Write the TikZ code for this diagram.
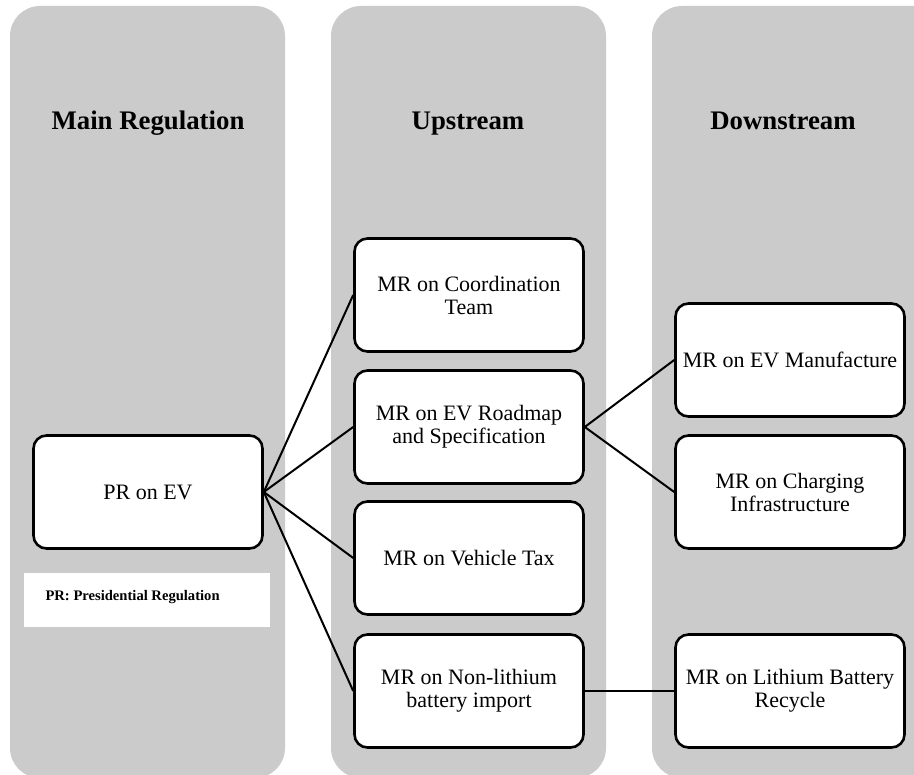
\documentclass[tikz,border=0pt]{standalone}
\usepackage{fontspec}
\setmainfont{Liberation Serif}
\usepackage{xcolor}
\definecolor{lanegray}{RGB}{203,203,203}

\begin{document}
\begin{tikzpicture}[x=1pt,y=-1pt,
    lane/.style={fill=lanegray, rounded corners=30pt},
    head/.style={anchor=base, font=\fontsize{26.8}{30}\selectfont\bfseries},
    reg/.style={draw, fill=white, line width=2.6pt, rounded corners=13pt,
      minimum width=229pt, minimum height=113pt, inner sep=0pt, align=center,
      font=\fontsize{22}{23}\selectfont},
    link/.style={line width=2pt}]
      \useasboundingbox (0,0) rectangle (914,775);
      % lanes
      \fill[lane] (10,6) rectangle (285,778);
      \fill[lane] (331,6) rectangle (606,778);
      \fill[lane] (652,6) rectangle (945,778);
      \node[head] (mainreg) at (148,130) {Main Regulation};
      \node[head] (upstream) at (468,130) {Upstream};
      \node[head] (downstream) at (783,130) {Downstream};
      % main regulation
      \node[reg] (pr) at (148,492) {PR on EV};
      \node[fill=white, minimum width=246pt, minimum height=54pt, inner sep=0pt] (legendbox) at (147,600) {};
      \node[anchor=west, font=\fontsize{14.6}{17}\selectfont\bfseries] (legend) at (42,597) {PR: Presidential Regulation};
      % upstream
      \node[reg] (coord) at (469,295) {MR on Coordination\\Team};
      \node[reg] (roadmap) at (469,427) {MR on EV Roadmap\\and Specification};
      \node[reg] (tax) at (469,558) {MR on Vehicle Tax};
      \node[reg] (nonli) at (469,691) {MR on Non-lithium\\battery import};
      % downstream
      \node[reg] (manuf) at (790,360) {MR on EV Manufacture};
      \node[reg] (charge) at (790,492) {MR on Charging\\Infrastructure};
      \node[reg] (recycle) at (790,691) {MR on Lithium Battery\\Recycle};
      % links
      \draw[link] (pr.east) -- (coord.west);
      \draw[link] (pr.east) -- (roadmap.west);
      \draw[link] (pr.east) -- (tax.west);
      \draw[link] (pr.east) -- (nonli.west);
      \draw[link] (roadmap.east) -- (manuf.west);
      \draw[link] (roadmap.east) -- (charge.west);
      \draw[link] (nonli.east) -- (recycle.west);
    \end{tikzpicture}
\end{document}
